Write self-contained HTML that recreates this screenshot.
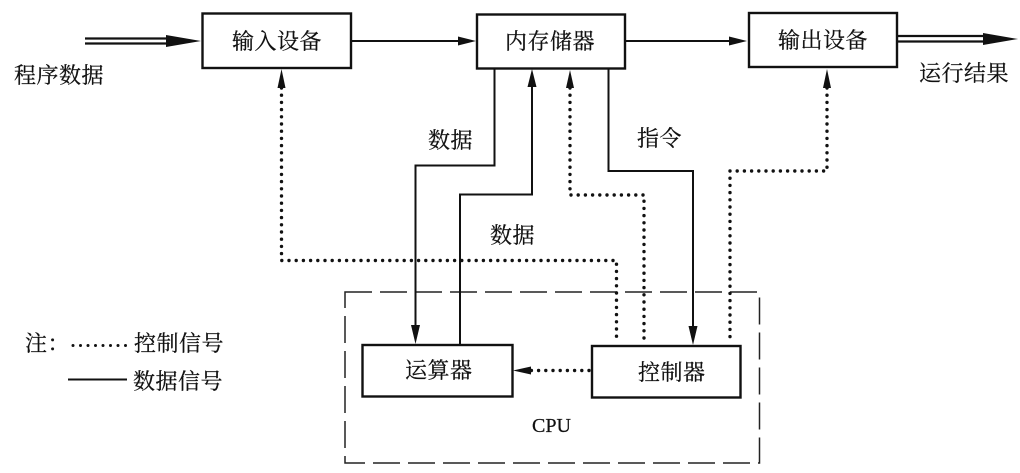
<!DOCTYPE html>
<html><head><meta charset="utf-8"><style>
html,body{margin:0;padding:0;background:#fff;width:1020px;height:473px;overflow:hidden}
svg{display:block}
text{font-family:"Liberation Serif","Noto Serif CJK SC",serif;font-size:22px;fill:#111;stroke:#111;stroke-width:.25px;letter-spacing:.5px}
.b{fill:#fff;stroke:#111;stroke-width:2.4}
.s{fill:none;stroke:#111;stroke-width:2}
.d{fill:none;stroke:#111;stroke-width:3.4;stroke-linecap:round;stroke-dasharray:0 7.2}
.h{fill:#111}
</style></head><body>
<svg width="1020" height="473" viewBox="0 0 1020 473" xmlns="http://www.w3.org/2000/svg">
<path d="M345 292H759.500V463H345Z" fill="none" stroke="#222" stroke-width="1.500" stroke-dasharray="27 8"/>

<rect class="b" x="202.500" y="13.500" width="148.500" height="54.500"/>
<rect class="b" x="477" y="14.500" width="148" height="54"/>
<rect class="b" x="749" y="13" width="148" height="54"/>
<rect class="b" x="362.500" y="345" width="150" height="51.500"/>
<rect class="b" x="592" y="346" width="148.500" height="51.500"/>

<!-- double arrows -->
<path class="s" d="M85 38.500H168M85 43.500H168" style="stroke-width:2.200"/>
<path class="h" d="M166 35L201 41L166 47Z"/>
<path class="s" d="M898 36H985M898 41.500H985" style="stroke-width:2.200"/>
<path class="h" d="M983 33L1018 39L983 45Z"/>

<!-- solid arrows -->
<path class="s" d="M352 41H460"/><path class="h" d="M458 36.500L476 41L458 45.500Z"/>
<path class="s" d="M626 41H731"/><path class="h" d="M729 36.500L747 41L729 45.500Z"/>
<path class="s" d="M494.500 69V165.500H415.500V327"/><path class="h" d="M411 325L415.500 344L420 325Z"/>
<path class="s" d="M460 345V194.500H532V86"/><path class="h" d="M527.500 87L532 69L536.500 87Z"/>
<path class="s" d="M608.500 69V171H693V327"/><path class="h" d="M688.500 326L693 345L697.500 326Z"/>

<!-- dotted arrows -->
<path class="d" d="M281.500 88V260.500H616.500V341"/><path class="h" d="M277.500 88L281.500 69L285.500 88Z"/>
<path class="d" d="M570 88V195H644V341"/><path class="h" d="M566 88L570 70L574 88Z"/>
<path class="d" d="M827 88V171H730V341"/><path class="h" d="M823 88L827 69L831 88Z"/>
<path class="d" d="M589 370.500H530"/><path class="h" d="M531 366.500L513 370.500L531 374.500Z"/>

<!-- legend -->
<path class="d" d="M73 345.500H126" style="stroke-width:3;stroke-dasharray:0 7.500"/>
<path class="s" d="M68 379.500H127"/>

<!-- labels -->
<text x="232" y="49">输入设备</text>
<text x="505" y="49">内存储器</text>
<text x="778" y="48">输出设备</text>
<text x="14" y="83">程序数据</text>
<text x="919" y="81">运行结果</text>
<text x="428" y="148">数据</text>
<text x="490" y="243">数据</text>
<text x="637" y="146">指令</text>
<text x="405" y="378">运算器</text>
<text x="638" y="380">控制器</text>
<text x="532" y="432" style="font-size:20px;letter-spacing:0">CPU</text>
<text x="25" y="351">注：</text>
<text x="134" y="351">控制信号</text>
<text x="133" y="389">数据信号</text>
</svg>
</body></html>
